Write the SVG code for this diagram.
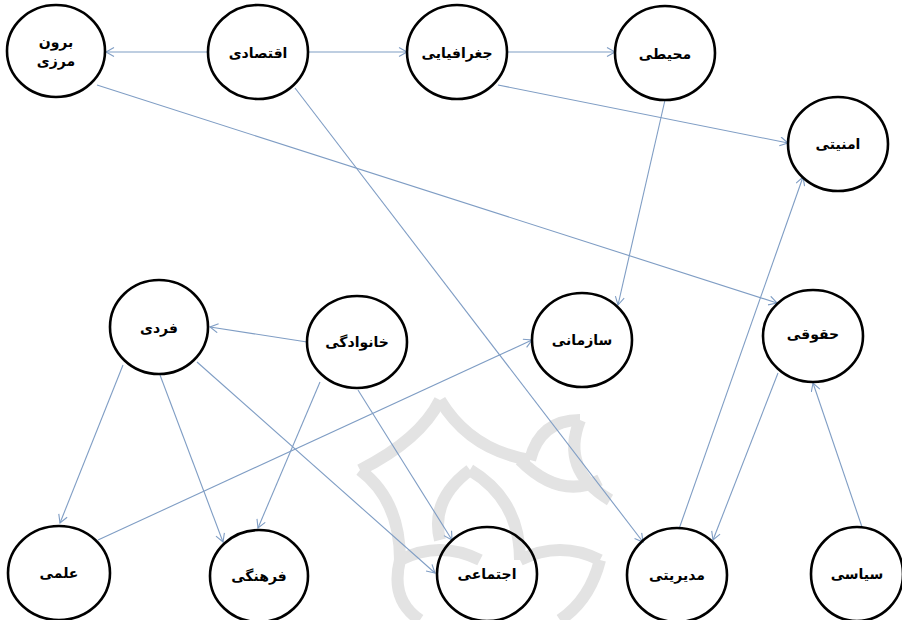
<svg xmlns="http://www.w3.org/2000/svg" width="902" height="620" viewBox="0 0 902 620">
<style>
.node ellipse{fill:none;stroke:#000;stroke-width:2.6}
.node text{font-family:"DejaVu Sans",sans-serif;font-weight:bold;font-size:14px;fill:#000;text-anchor:middle;dominant-baseline:central}
.edge{stroke:#7f9dc4;stroke-width:1.1;fill:none;marker-end:url(#arr)}
.wm{fill:none;stroke:#e3e3e3;stroke-width:12}
</style>
<defs>
<marker id="arr" markerUnits="userSpaceOnUse" markerWidth="12" markerHeight="12" refX="9" refY="5" orient="auto">
<path d="M1,0.5 L9,5 L1,9.5" fill="none" stroke="#7f9dc4" stroke-width="1.1"/>
</marker>
</defs>
<rect width="902" height="620" fill="#fff"/>
<g id="watermark">
<path class="wm" d="M360,470 Q420,440 440,400"/>
<path class="wm" d="M440,400 Q470,450 530,460"/>
<path class="wm" d="M530,460 Q540,420 580,420"/>
<path class="wm" d="M360,470 Q400,500 400,560"/>
<path class="wm" d="M400,560 Q440,540 480,560"/>
<path class="wm" d="M470,470 Q520,500 520,560"/>
<path class="wm" d="M520,560 Q560,540 600,560"/>
<path class="wm" d="M520,460 Q560,500 600,480"/>
<path class="wm" d="M580,420 Q560,470 610,500"/>
<path class="wm" d="M400,560 Q390,600 420,620"/>
<path class="wm" d="M600,560 Q590,600 560,620"/>
<path class="wm" d="M470,470 Q430,500 440,540"/>
</g>
<g id="connectors">
<line class="edge" x1="208" y1="52" x2="106" y2="52"/>
<line class="edge" x1="308" y1="52" x2="407" y2="52"/>
<line class="edge" x1="508" y1="52" x2="615" y2="52"/>
<line class="edge" x1="498" y1="85" x2="788" y2="143"/>
<line class="edge" x1="665" y1="100" x2="618" y2="305"/>
<line class="edge" x1="97" y1="85" x2="777" y2="303"/>
<line class="edge" x1="295" y1="88" x2="643" y2="542"/>
<line class="edge" x1="679" y1="529" x2="803" y2="177"/>
<line class="edge" x1="778" y1="373" x2="713" y2="540"/>
<line class="edge" x1="862" y1="527" x2="813" y2="383"/>
<line class="edge" x1="307" y1="342" x2="210" y2="327"/>
<line class="edge" x1="123" y1="365" x2="60" y2="523"/>
<line class="edge" x1="160" y1="375" x2="223" y2="542"/>
<line class="edge" x1="197" y1="362" x2="435" y2="573"/>
<line class="edge" x1="320" y1="382" x2="258" y2="528"/>
<line class="edge" x1="358" y1="390" x2="452" y2="540"/>
<line class="edge" x1="98" y1="540" x2="532" y2="340"/>
</g>
<g id="n-boronmarzi" class="node"><ellipse cx="56" cy="51" rx="49" ry="46"/><text x="56" y="42">برون</text><text x="56" y="61">مرزی</text></g>
<g id="n-eqtesadi" class="node"><ellipse cx="258" cy="52" rx="50" ry="47"/><text x="258" y="53">اقتصادی</text></g>
<g id="n-joghrafiyayi" class="node"><ellipse cx="457" cy="52" rx="50" ry="47"/><text x="457" y="53">جغرافیایی</text></g>
<g id="n-mohiti" class="node"><ellipse cx="665" cy="53" rx="50" ry="47"/><text x="665" y="54">محیطی</text></g>
<g id="n-amniyati" class="node"><ellipse cx="838" cy="144" rx="50" ry="47"/><text x="838" y="144">امنیتی</text></g>
<g id="n-fardi" class="node"><ellipse cx="159" cy="327" rx="49" ry="47"/><text x="159" y="328">فردی</text></g>
<g id="n-khanevadegi" class="node"><ellipse cx="357" cy="342" rx="50" ry="46"/><text x="357" y="342">خانوادگی</text></g>
<g id="n-sazmani" class="node"><ellipse cx="582" cy="340" rx="50" ry="47"/><text x="582" y="340">سازمانی</text></g>
<g id="n-hoghooghi" class="node"><ellipse cx="813" cy="336" rx="50" ry="46"/><text x="813" y="334">حقوقی</text></g>
<g id="n-elmi" class="node"><ellipse cx="59" cy="573" rx="51" ry="47"/><text x="59" y="573">علمی</text></g>
<g id="n-farhangi" class="node"><ellipse cx="259" cy="576" rx="49" ry="46"/><text x="259" y="576">فرهنگی</text></g>
<g id="n-ejtemaei" class="node"><ellipse cx="487" cy="574" rx="50" ry="47"/><text x="487" y="574">اجتماعی</text></g>
<g id="n-modiriyati" class="node"><ellipse cx="677" cy="575" rx="50" ry="47"/><text x="677" y="575">مدیریتی</text></g>
<g id="n-siyasi" class="node"><ellipse cx="857" cy="574" rx="46" ry="47"/><text x="857" y="574">سیاسی</text></g>
</svg>
